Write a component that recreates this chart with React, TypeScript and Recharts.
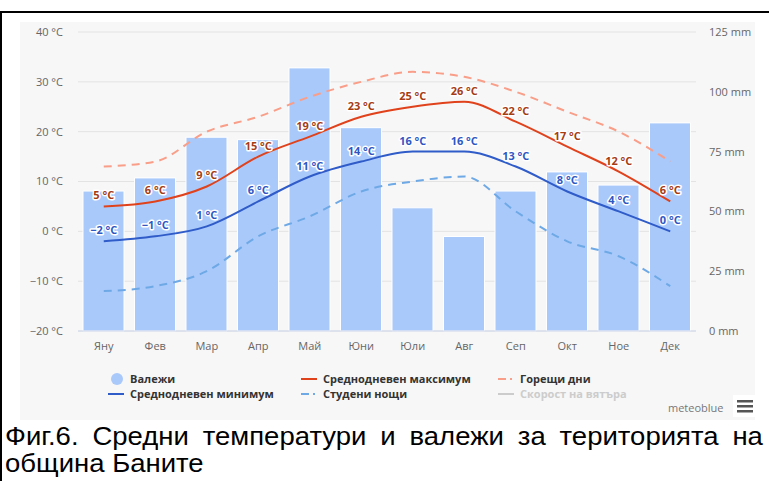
import React from 'react';
import { ComposedChart, Bar, Line, XAxis, YAxis, CartesianGrid, LabelList } from 'recharts';

const months = ['Яну', 'Фев', 'Мар', 'Апр', 'Май', 'Юни', 'Юли', 'Авг', 'Сеп', 'Окт', 'Ное', 'Дек'];
const precipitation = [58.5, 64, 81, 80, 110, 85, 51.5, 39.5, 58.5, 66.5, 61, 87];
const meanMax = [5, 6, 9, 15, 19, 23, 25, 26, 22, 17, 12, 6];
const meanMin = [-2, -1, 1, 6, 11, 14, 16, 16, 13, 8, 4, 0];
const hotDays = [13, 14, 20, 23, 27, 30, 32, 31, 28, 24, 20, 14];
const coldNights = [-12, -11, -8, -1, 3, 8, 10, 11, 4, -2, -5, -11];

const tempTicks = [-20, -10, 0, 10, 20, 30, 40];
const mmTicks = [0, 25, 50, 75, 100, 125];

const captionLine1 = 'Фиг.6. Средни температури и валежи за територията на';
const captionLine2 = 'община Баните';

const data = months.map((m, i) => ({
  month: m,
  precip: precipitation[i],
  max: meanMax[i],
  min: meanMin[i],
  hot: hotDays[i],
  cold: coldNights[i],
}));

const fmtTemp = (v: number) => `${v < 0 ? '−' + Math.abs(v) : v} °C`;

const FONT = '"Open Sans", "DejaVu Sans", sans-serif';

const makeLabel = (color: string) => (props: any) => {
  const { x, y, value } = props;
  return (
    <text
      x={x}
      y={y - 7}
      textAnchor="middle"
      fontFamily={FONT}
      fontSize={11}
      fontWeight={700}
      fill={color}
      stroke="#ffffff"
      strokeWidth={3}
      strokeLinejoin="round"
      paintOrder="stroke"
    >
      {fmtTemp(value)}
    </text>
  );
};

const legendRows = [
  [
    { name: 'Валежи', kind: 'circle', color: '#a9c9fb' },
    { name: 'Среднодневен максимум', kind: 'line', color: '#e0421c' },
    { name: 'Горещи дни', kind: 'dash', color: '#f99e88' },
  ],
  [
    { name: 'Среднодневен минимум', kind: 'line', color: '#2f5cc8' },
    { name: 'Студени нощи', kind: 'dash', color: '#6ea9e6' },
    { name: 'Скорост на вятъра', kind: 'line', color: '#cccccc', off: true },
  ],
];
const legendCols = [88, 281, 478];

const Marker = ({ kind, color }: { kind: string; color: string }) => {
  if (kind === 'circle') {
    return (
      <svg width={16} height={12}>
        <circle cx={9} cy={6} r={6} fill={color} />
      </svg>
    );
  }
  return (
    <svg width={16} height={12}>
      {kind === 'line' ? (
        <line x1={0} x2={16} y1={6} y2={6} stroke={color} strokeWidth={2} />
      ) : (
        <>
          <line x1={0} x2={8} y1={6} y2={6} stroke={color} strokeWidth={2} />
          <line x1={12} x2={14} y1={6} y2={6} stroke={color} strokeWidth={2} />
        </>
      )}
    </svg>
  );
};

export default function App() {
  return (
    <div style={{ position: 'absolute', left: 0, top: 0, width: 769, height: 481, background: '#fff', overflow: 'hidden' }}>
      <div
        style={{
          position: 'absolute',
          left: 0,
          top: 11,
          width: 769,
          height: 470,
          borderTop: '2px solid #000',
          borderLeft: '2px solid #000',
          boxSizing: 'border-box',
        }}
      />
      <div style={{ position: 'absolute', left: 20, top: 22, width: 735, height: 398, background: '#f7f7f7', overflow: 'hidden' }}>
        <ComposedChart width={735} height={398} data={data} margin={{ top: 10, right: 0, left: 0, bottom: 64 }} barCategoryGap={11}>
          <CartesianGrid yAxisId="left" vertical={false} stroke="#e3e3e3" />
          <XAxis
            dataKey="month"
            height={25}
            tickLine={false}
            axisLine={{ stroke: '#ccd6eb' }}
            tickMargin={5}
            tick={{ fontFamily: FONT, fontSize: 11, fill: '#666' }}
          />
          <YAxis
            yAxisId="left"
            width={58}
            domain={[-20, 40]}
            ticks={tempTicks}
            tickFormatter={fmtTemp}
            tickLine={false}
            axisLine={false}
            tickMargin={9}
            tick={{ fontFamily: FONT, fontSize: 11, fill: '#666' }}
          />
          <YAxis
            yAxisId="right"
            orientation="right"
            width={59}
            domain={[0, 125]}
            ticks={mmTicks}
            tickFormatter={(v: number) => `${v} mm`}
            tickLine={false}
            axisLine={false}
            tickMargin={7}
            tick={{ fontFamily: FONT, fontSize: 11, fill: '#666', textAnchor: 'start' }}
          />
          <Bar yAxisId="right" dataKey="precip" fill="#a9c9fb" stroke="#ffffff" strokeWidth={1} barSize={41} isAnimationActive={false} />
          <Line yAxisId="left" type="monotone" dataKey="hot" stroke="#f99e88" strokeWidth={2} strokeDasharray="8 6" dot={false} isAnimationActive={false} />
          <Line yAxisId="left" type="monotone" dataKey="cold" stroke="#6ea9e6" strokeWidth={2} strokeDasharray="8 6" dot={false} isAnimationActive={false} />
          <Line yAxisId="left" type="monotone" dataKey="max" stroke="#e0421c" strokeWidth={2} dot={false} isAnimationActive={false}>
            <LabelList dataKey="max" content={makeLabel('#a63c14')} />
          </Line>
          <Line yAxisId="left" type="monotone" dataKey="min" stroke="#2f5cc8" strokeWidth={2} dot={false} isAnimationActive={false}>
            <LabelList dataKey="min" content={makeLabel('#2f57c4')} />
          </Line>
        </ComposedChart>
        {legendRows.map((row, r) =>
          row.map((item, c) => (
            <div
              key={item.name}
              style={{
                position: 'absolute',
                left: legendCols[c],
                top: 350 + r * 15,
                display: 'flex',
                alignItems: 'center',
                gap: 6,
                fontFamily: FONT,
                fontSize: 11,
                fontWeight: 700,
                color: item.off ? '#cccccc' : '#333',
                whiteSpace: 'nowrap',
                lineHeight: '13px',
              }}
            >
              <Marker kind={item.kind} color={item.color} />
              <span>{item.name}</span>
            </div>
          ))
        )}
        <div style={{ position: 'absolute', left: 648, top: 378, fontFamily: FONT, fontSize: 11, color: '#777' }}>meteoblue</div>
        <div style={{ position: 'absolute', left: 713, top: 373, width: 22, height: 22, background: '#fff' }}>
          <svg width={22} height={22}>
            {[6, 11, 16].map((yy) => (
              <rect key={yy} x={4} y={yy - 1} width={16} height={2.5} fill="#555" />
            ))}
          </svg>
        </div>
      </div>
      <div
        style={{
          position: 'absolute',
          left: 5,
          top: 423,
          width: 689,
          fontFamily: '"Liberation Sans", Arial, sans-serif',
          fontSize: 25,
          lineHeight: '27px',
          color: '#000',
          transform: 'scaleX(1.1)',
          transformOrigin: '0 0',
        }}
      >
        <div style={{ textAlign: 'justify', textAlignLast: 'justify', whiteSpace: 'nowrap' as const }}>{captionLine1}</div>
        <div>{captionLine2}</div>
      </div>
    </div>
  );
}
